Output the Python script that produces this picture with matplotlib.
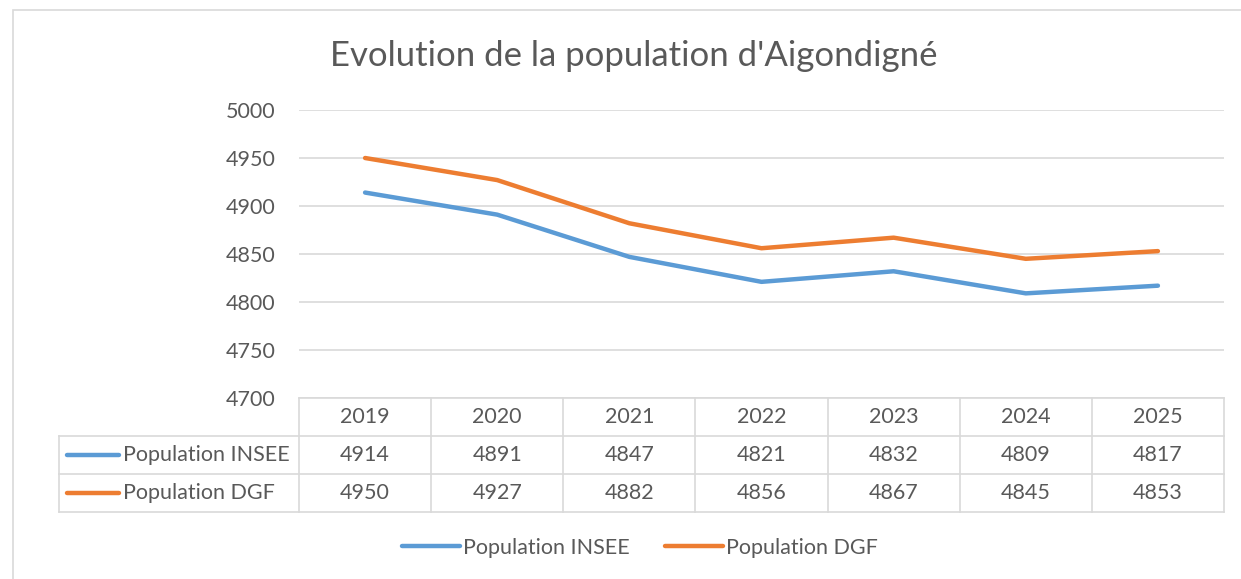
import matplotlib.pyplot as plt
import matplotlib.transforms as mtransforms
from matplotlib.patches import Rectangle

plt.rcParams['font.family'] = ['Lato', 'DejaVu Sans']

annees = ['2019', '2020', '2021', '2022', '2023', '2024', '2025']
pop_insee = [4914, 4891, 4847, 4821, 4832, 4809, 4817]
pop_dgf = [4950, 4927, 4882, 4856, 4867, 4845, 4853]
series = ['Population INSEE', 'Population DGF']

bleu = '#5B9BD5'
orange = '#ED7D31'
gris = '#595959'
grille = '#D9D9D9'
fs = 15.5

W, H = 1241, 579
fig = plt.figure(figsize=(W / 100, H / 100), dpi=100)

# cadre du graphique
fig.patches.append(Rectangle((13 / W, -0.1), 2, 1 - 10 / H + 0.1, transform=fig.transFigure,
                             fill=False, edgecolor=grille, lw=1.2))

ax = fig.add_axes([299 / W, 1 - 398 / H, 925 / W, 288 / H])
x = list(range(len(annees)))
ax.plot(x, pop_insee, color=bleu, lw=3.2, solid_capstyle='round', label=series[0])
ax.plot(x, pop_dgf, color=orange, lw=3.2, solid_capstyle='round', label=series[1])

ax.set_xlim(-0.5, len(annees) - 0.5)
ax.set_ylim(4700, 5000)
ax.set_yticks(range(4700, 5001, 50))
ax.grid(axis='y', color=grille, lw=1.2)
ax.set_axisbelow(True)
for s in ['top', 'right', 'left']:
    ax.spines[s].set_visible(False)
ax.spines['bottom'].set_color(grille)
ax.spines['bottom'].set_linewidth(1.2)
ax.set_xticks([])
ax.tick_params(axis='y', length=0, labelsize=fs, labelcolor=gris, pad=17)

fig.text(634 / W, 1 - 56 / H, "Evolution de la population d'Aigondigné", ha='center', va='center',
         fontsize=25, color=gris)

# table de données sous le graphique
tr = mtransforms.blended_transform_factory(ax.transData, ax.transAxes)
rh = 38 / 288
xg = (59 - 299) / (925 / 7) - 0.5
xd = len(annees) - 0.5
kw = dict(transform=tr, clip_on=False, color=grille, lw=1.2)
for k in range(1, 4):
    ax.plot([xg, xd], [-k * rh, -k * rh], **kw)
ax.plot([xg, xg], [-rh, -3 * rh], **kw)
for i in range(len(annees) + 1):
    ax.plot([i - 0.5, i - 0.5], [0, -3 * rh], **kw)

for i, a in enumerate(annees):
    ax.text(i, -0.5 * rh, a, transform=tr, ha='center', va='center', fontsize=fs, color=gris)
    ax.text(i, -1.5 * rh, str(pop_insee[i]), transform=tr, ha='center', va='center', fontsize=fs, color=gris)
    ax.text(i, -2.5 * rh, str(pop_dgf[i]), transform=tr, ha='center', va='center', fontsize=fs, color=gris)

px = 925 / 7
for r, (nom, c) in enumerate(zip(series, [bleu, orange])):
    y = -(1.5 + r) * rh
    ax.plot([xg + 8 / px, xg + 60 / px], [y, y], transform=tr, clip_on=False, color=c, lw=3.2,
            solid_capstyle='round')
    ax.text(xg + 64 / px, y, nom, transform=tr, ha='left', va='center', fontsize=fs, color=gris)

fig.legend(loc='center', bbox_to_anchor=(640 / W, 1 - 548 / H), ncol=2, frameon=False, fontsize=fs,
           labelcolor=gris, handlelength=2.7, handletextpad=0.15, columnspacing=1.6)

fig.savefig('out.png', dpi=100)
